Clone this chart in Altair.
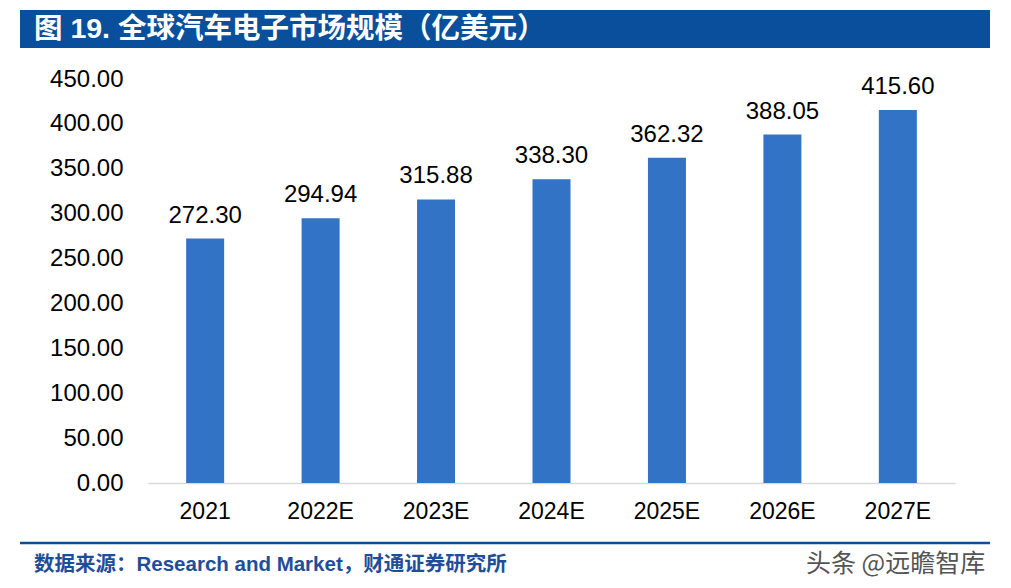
import altair as alt
import pandas as pd

years = ["2021", "2022E", "2023E", "2024E", "2025E", "2026E", "2027E"]
values = [272.30, 294.94, 315.88, 338.30, 362.32, 388.05, 415.60]

title_text = "图 19. 全球汽车电子市场规模（亿美元）"
source_text = "数据来源：Research and Market，财通证券研究所"
watermark_text = "头条 @远瞻智库"

df = pd.DataFrame({"year": years, "value": values})
FONT = "Liberation Sans, Arial, Noto Sans CJK SC"

base = alt.Chart(df)

bars = base.mark_bar(color="#3273C6", width=38).encode(
    x=alt.X("year:N", sort=years, title=None,
            axis=alt.Axis(labelAngle=0, labelFontSize=23, labelColor="#000000",
                          labelFont=FONT, ticks=False, domainColor="#D9D9D9",
                          domainWidth=1.5, labelPadding=17)),
    y=alt.Y("value:Q", title=None, scale=alt.Scale(domain=[0, 450]),
            axis=alt.Axis(values=[0, 50, 100, 150, 200, 250, 300, 350, 400, 450],
                          format=".2f", labelFontSize=24, labelColor="#000000",
                          labelFont=FONT, ticks=False, domain=False, grid=False,
                          labelPadding=25)),
)

labels = base.mark_text(fontSize=24, font=FONT, color="#000000", baseline="bottom", dy=-11).encode(
    x=alt.X("year:N", sort=years),
    y="value:Q",
    text=alt.Text("value:Q", format=".2f"),
)

title_rect = alt.Chart(pd.DataFrame({"t": [title_text]})).mark_rect(color="#0A4F9C").encode(
    x=alt.value(-128), x2=alt.value(842), y=alt.value(-69), y2=alt.value(-31)
)
title_lbl = alt.Chart(pd.DataFrame({"t": [title_text]})).mark_text(
    color="white", fontSize=28.5, fontWeight="bold", font="Liberation Sans, Noto Sans CJK SC",
    align="left", baseline="middle"
).encode(x=alt.value(-114), y=alt.value(-50), text="t:N")

sep = alt.Chart(pd.DataFrame({"t": [1]})).mark_rule(color="#0A4F9C", strokeWidth=2.5).encode(
    x=alt.value(-128), x2=alt.value(842), y=alt.value(464)
)
src = alt.Chart(pd.DataFrame({"t": [source_text]})).mark_text(
    color="#1F4E99", fontSize=20.5, fontWeight="bold", font="Liberation Sans, Noto Sans CJK SC",
    align="left", baseline="middle"
).encode(x=alt.value(-114), y=alt.value(486), text="t:N")
wm = alt.Chart(pd.DataFrame({"t": [watermark_text]})).mark_text(
    color="#555555", fontSize=25, font="Noto Sans CJK SC",
    align="left", baseline="middle"
).encode(x=alt.value(658), y=alt.value(485), text="t:N")

chart = alt.layer(bars, labels, title_rect, title_lbl, sep, src, wm).properties(
    width=807, height=404,
    padding={"left": 140, "top": 71, "right": 48, "bottom": 102},
    autosize=alt.AutoSizeParams(type="none"),
).configure_view(stroke=None).configure_scale(bandPaddingInner=0.67, bandPaddingOuter=0.33)

chart.save("out.html", embed_options={"renderer": "svg", "actions": False})
